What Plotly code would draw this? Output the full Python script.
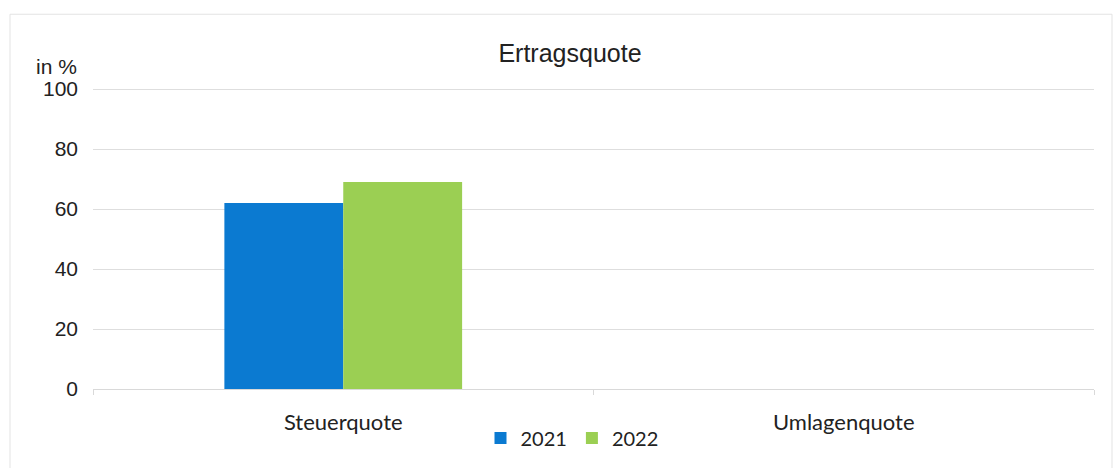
import plotly.graph_objects as go

categories = ["Steuerquote", "Umlagenquote"]
years = ["2021", "2022"]
values_2021 = [62, None]
values_2022 = [69, None]
colors = ["#0b7ad1", "#9bcf53"]
y_ticks = [0, 20, 40, 60, 80, 100]

fig = go.Figure()
for name, vals, col in zip(years, [values_2021, values_2022], colors):
    fig.add_trace(go.Bar(
        x=categories, y=vals, name=name,
        marker=dict(color=col, line=dict(width=0)),
    ))

L, R, T, B = 93, 20, 86, 78
W, H = 1114, 468
pw, ph = W - L - R, H - T - B

fig.update_layout(
    width=W, height=H,
    margin=dict(l=L, r=R, t=T, b=B),
    paper_bgcolor="white", plot_bgcolor="white",
    barmode="group", bargap=0.525, bargroupgap=0,
    font=dict(family="Liberation Sans, Arial", size=21, color="#222"),
    title=dict(text="Ertragsquote", x=570 / W, xanchor="center",
               y=1 - 53 / H, yanchor="middle",
               font=dict(family="Liberation Sans, Arial", size=25, color="#222")),
    showlegend=True,
    legend=dict(orientation="h", x=(572 - L) / pw, xanchor="center",
                y=(390 - 438) / ph, yanchor="middle",
                font=dict(family="Lato, Open Sans", size=20, color="#222"),
                itemwidth=30, traceorder="normal"),
    xaxis=dict(
        showgrid=False, showline=True, linecolor="#d9d9d9", linewidth=1,
        ticks="outside", tickson="boundaries", ticklen=5, tickcolor="#d9d9d9",
        tickfont=dict(family="Lato, Open Sans", size=22, color="#222"),
        ticklabelstandoff=14,
    ),
    yaxis=dict(
        range=[0, 101], tickvals=y_ticks, showgrid=True, gridcolor="#dedede",
        gridwidth=1, zeroline=False, showline=False,
        tickfont=dict(family="Liberation Sans, Arial", size=21, color="#222"),
        ticklabelstandoff=14,
    ),
    annotations=[dict(text="in %", xref="paper", yref="paper",
                      x=(79 - L) / pw, xanchor="right", y=(390 - 66) / ph, yanchor="middle",
                      showarrow=False,
                      font=dict(family="Liberation Sans, Arial", size=21, color="#222"))],
    shapes=[dict(type="rect", xref="paper", yref="paper",
                 x0=(10 - L) / pw, x1=(1112 - L) / pw,
                 y0=(390 - 470) / ph, y1=(390 - 14) / ph,
                 line=dict(color="#e3e3e3", width=1), layer="below")],
)

fig.write_html("out.html")
